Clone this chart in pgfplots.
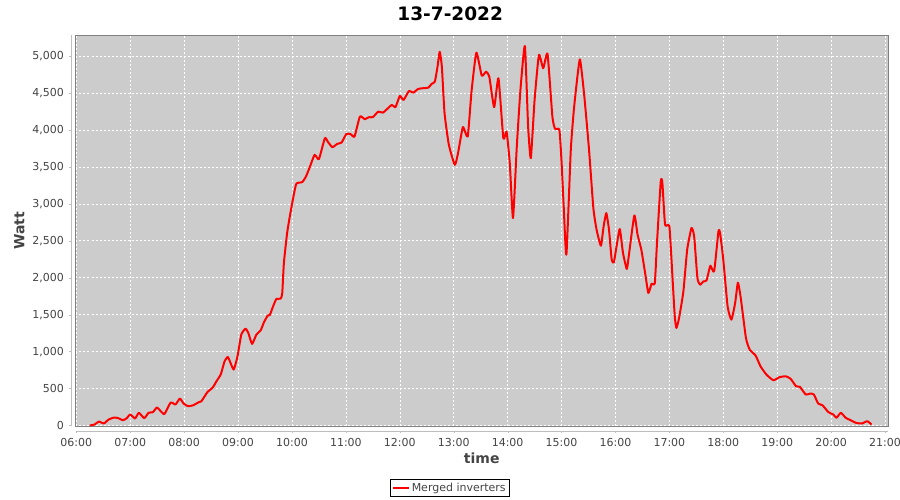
\documentclass[border=0pt]{standalone}
\usepackage{fontspec}
\setmainfont{DejaVu Sans}
\usepackage{pgfplots}
\pgfplotsset{compat=1.18}

\definecolor{plotbg}{RGB}{204,204,204}
\definecolor{axisgray}{RGB}{128,128,128}
\definecolor{axislight}{RGB}{190,190,190}
\definecolor{ticktext}{RGB}{68,68,68}

\begin{document}
\begin{tikzpicture}[x=1pt,y=1pt]
\path[use as bounding box] (0,0) rectangle (900,500);
\begin{axis}[
    name=ax,
    at={(75.5pt,73.5pt)}, anchor=south west,
    width=812.5pt, height=391.5pt, scale only axis,
    xmin=5.985, xmax=21.055,
    ymin=-13.5, ymax=5284,
    axis background/.style={fill=plotbg},
    axis line style={draw=axisgray},
    xtick={6,7,...,21},
    xticklabels={06:00,07:00,08:00,09:00,10:00,11:00,12:00,13:00,14:00,15:00,16:00,17:00,18:00,19:00,20:00,21:00},
    ytick={0,500,...,5000},
    /pgf/number format/.cd, fixed, 1000 sep={,}, assume math mode=true, /pgfplots/.cd,
    tick label style={font=\fontsize{11}{13}\selectfont, text=ticktext},
    xticklabel style={yshift=-6pt},
    yticklabel style={xshift=-6pt},
    tick align=outside, tick pos=left, major tick length=2pt,
    xtick style={draw=axislight, yshift=-4.5pt},
    ytick style={draw=axislight, xshift=-4.5pt},
    grid=major,
    major grid style={draw=white, dash pattern=on 2pt off 2pt, line width=0.5pt},
    xlabel={time}, ylabel={Watt},
    label style={font=\bfseries\fontsize{14}{17}\selectfont, text=ticktext},
    xlabel style={at={(axis description cs:0.5,-0.0816)}, anchor=center},
    ylabel style={at={(axis description cs:-0.069,0.5)}, anchor=center},
    title={13-7-2022},
    title style={at={(axis description cs:0.4612,1.0387)}, anchor=center,
        font=\bfseries\fontsize{18.5}{21}\selectfont},
    legend style={at={(axis description cs:0.4606,-0.156)}, anchor=center,
        draw=black, font=\fontsize{11}{13}\selectfont, text=ticktext,
        inner sep=1.5pt, row sep=0pt},
    legend image code/.code={\draw[red, line width=2pt] (0pt,0pt) -- (16pt,0pt);},
]
\addplot[red, line width=2pt, smooth, tension=0.3, line join=round] coordinates {
(6.25,0) (6.34,14) (6.42,54) (6.51,27) (6.60,81) (6.70,108) (6.78,99) (6.86,72)
(6.93,95) (7.00,149) (7.09,95) (7.16,172) (7.26,99) (7.34,172) (7.42,180) (7.50,243)
(7.63,153) (7.75,311) (7.84,284) (7.92,365) (7.99,297) (8.07,261) (8.17,274) (8.26,311)
(8.32,328) (8.43,450) (8.53,514) (8.60,599) (8.68,693) (8.75,869) (8.81,928) (8.86,847)
(8.92,757) (8.99,937) (9.06,1230) (9.14,1311) (9.19,1253) (9.26,1104) (9.34,1230) (9.42,1288)
(9.48,1396) (9.55,1487) (9.59,1496) (9.65,1612) (9.71,1712) (9.79,1716) (9.82,1793) (9.85,2199)
(9.91,2604) (9.96,2828) (10.01,3031) (10.08,3270) (10.19,3293) (10.26,3369) (10.33,3496) (10.42,3662)
(10.50,3604) (10.61,3888) (10.67,3834) (10.75,3766) (10.84,3811) (10.92,3829) (11.01,3946) (11.09,3942)
(11.16,3910) (11.26,4180) (11.35,4145) (11.43,4172) (11.50,4172) (11.60,4247) (11.69,4234) (11.85,4338)
(11.92,4307) (12.00,4459) (12.07,4405) (12.17,4527) (12.25,4504) (12.34,4554) (12.43,4564) (12.53,4572)
(12.59,4622) (12.65,4653) (12.70,4856) (12.74,5058) (12.78,4856) (12.83,4226) (12.91,3797) (13.02,3527)
(13.08,3685) (13.17,4037) (13.26,3910) (13.33,4518) (13.42,5045) (13.52,4734) (13.60,4788) (13.66,4720)
(13.75,4307) (13.83,4699) (13.92,3888) (13.98,3977) (14.04,3550) (14.10,2807) (14.17,3775) (14.24,4564)
(14.32,5135) (14.38,4045) (14.43,3618) (14.50,4405) (14.58,5014) (14.66,4834) (14.74,5027) (14.83,4180)
(14.88,4014) (14.96,4000) (15.00,3572) (15.04,2964) (15.09,2311) (15.17,3707) (15.22,4203) (15.26,4496)
(15.34,4955) (15.42,4473) (15.51,3730) (15.59,2942) (15.65,2649) (15.73,2433) (15.78,2693) (15.83,2874)
(15.88,2649) (15.93,2243) (15.97,2207) (16.02,2423) (16.08,2658) (16.14,2334) (16.21,2118) (16.25,2311)
(16.35,2842) (16.41,2581) (16.48,2378) (16.55,2064) (16.61,1793) (16.67,1919) (16.73,1928) (16.77,2469)
(16.84,3301) (16.87,3284) (16.92,2716) (17.00,2693) (17.06,1973) (17.10,1477) (17.13,1320) (17.18,1455)
(17.26,1815) (17.33,2378) (17.41,2672) (17.46,2558) (17.52,1996) (17.57,1905) (17.63,1950) (17.69,1964)
(17.76,2162) (17.83,2085) (17.91,2626) (17.94,2608) (18.00,2243) (18.08,1612) (18.15,1432) (18.22,1658)
(18.27,1932) (18.32,1747) (18.42,1185) (18.49,1027) (18.60,946) (18.69,801) (18.80,689) (18.93,612)
(19.04,653) (19.16,666) (19.25,631) (19.35,531) (19.42,523) (19.53,419) (19.61,432) (19.68,419)
(19.76,297) (19.84,274) (19.95,180) (20.04,149) (20.10,104) (20.18,172) (20.27,104) (20.36,72)
(20.46,36) (20.57,27) (20.67,58) (20.75,14)
};
\addlegendentry{Merged inverters}
\end{axis}
% axis lines drawn apart from the plot area, as in the original
\draw[axislight] ([xshift=-4.5pt]ax.south west) -- ([xshift=-4.5pt]ax.north west);
\draw[axislight] ([yshift=-4.5pt]ax.south west) -- ([yshift=-4.5pt]ax.south east);
\end{tikzpicture}
\end{document}
